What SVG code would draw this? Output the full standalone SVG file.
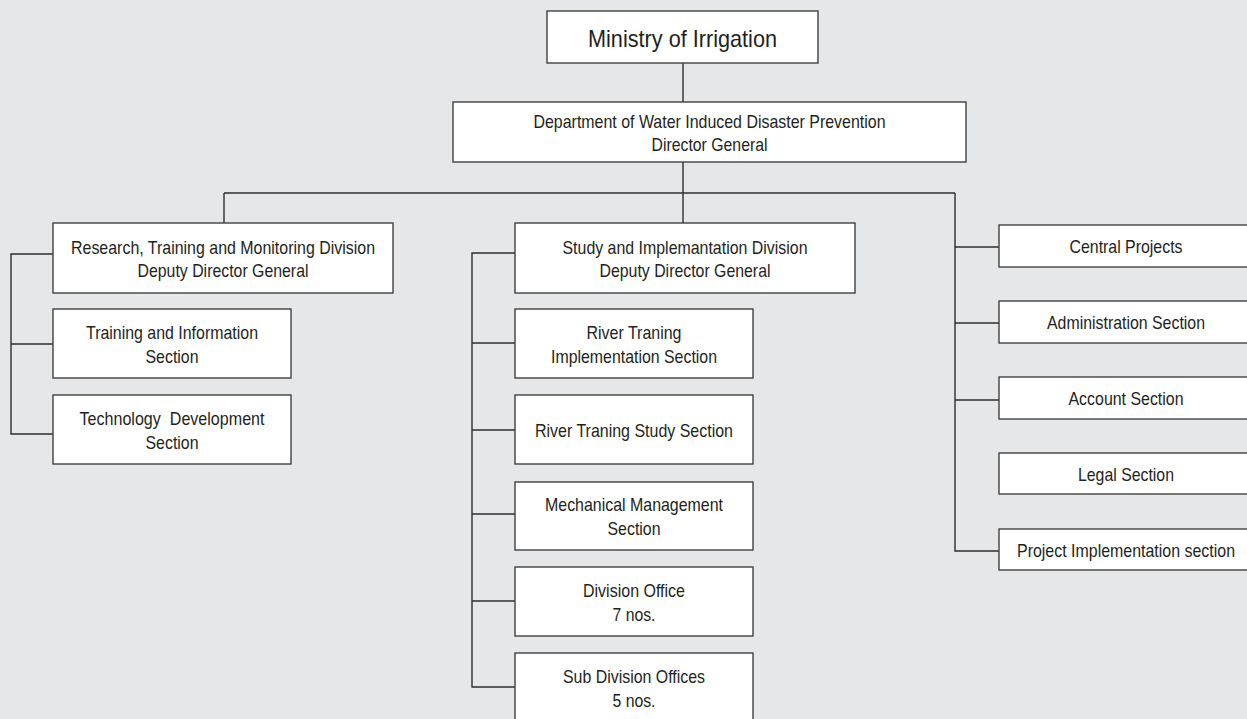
<svg xmlns="http://www.w3.org/2000/svg" width="1247" height="719" viewBox="0 0 1247 719">
<style>
.bg{fill:#e6e7e8}
.box{fill:#ffffff;stroke:#404040;stroke-width:1.4}
.ln{fill:none;stroke:#2e2e2e;stroke-width:1.4}
text{font-family:"Liberation Sans",Arial,sans-serif;font-size:19px;fill:#231f20;text-anchor:middle}
.big{font-size:24px}
</style>
<rect class="bg" x="0" y="0" width="1247" height="719"/>
<g id="connectors">
<path class="ln" d="M683,63 V102"/>
<path class="ln" d="M683,162 V223"/>
<path class="ln" d="M224,193 H955"/>
<path class="ln" d="M224,193 V223"/>
<path class="ln" d="M955,193 V551 H999"/>
<path class="ln" d="M955,247 H999"/>
<path class="ln" d="M955,323 H999"/>
<path class="ln" d="M955,400 H999"/>
<path class="ln" d="M53,254 H11 V434 H53"/>
<path class="ln" d="M11,344 H53"/>
<path class="ln" d="M515,253 H472 V687 H515"/>
<path class="ln" d="M472,343 H515"/>
<path class="ln" d="M472,430 H515"/>
<path class="ln" d="M472,514 H515"/>
<path class="ln" d="M472,601 H515"/>
</g>
<g id="ministry">
<rect class="box" x="547" y="11" width="271" height="52"/>
<text class="big" x="682.5" y="46.5" textLength="189" lengthAdjust="spacingAndGlyphs">Ministry of Irrigation</text>
</g>
<g id="department">
<rect class="box" x="453" y="102" width="513" height="60"/>
<text x="709.5" y="128" textLength="352" lengthAdjust="spacingAndGlyphs">Department of Water Induced Disaster Prevention</text>
<text x="709.5" y="151" textLength="116" lengthAdjust="spacingAndGlyphs">Director General</text>
</g>
<g id="rtm-division">
<rect class="box" x="53" y="223" width="340" height="70"/>
<text x="223" y="254" textLength="304" lengthAdjust="spacingAndGlyphs">Research, Training and Monitoring Division</text>
<text x="223" y="277" textLength="171" lengthAdjust="spacingAndGlyphs">Deputy Director General</text>
</g>
<g id="training-info">
<rect class="box" x="53" y="309" width="238" height="69"/>
<text x="172" y="339" textLength="172" lengthAdjust="spacingAndGlyphs">Training and Information</text>
<text x="172" y="363" textLength="53" lengthAdjust="spacingAndGlyphs">Section</text>
</g>
<g id="tech-dev">
<rect class="box" x="53" y="395" width="238" height="69"/>
<text x="172" y="425" textLength="185" lengthAdjust="spacingAndGlyphs" xml:space="preserve" style="white-space:pre">Technology  Development</text>
<text x="172" y="449" textLength="53" lengthAdjust="spacingAndGlyphs">Section</text>
</g>
<g id="sid-division">
<rect class="box" x="515" y="223" width="340" height="70"/>
<text x="685" y="254" textLength="245" lengthAdjust="spacingAndGlyphs">Study and Implemantation Division</text>
<text x="685" y="277" textLength="171" lengthAdjust="spacingAndGlyphs">Deputy Director General</text>
</g>
<g id="rt-impl">
<rect class="box" x="515" y="309" width="238" height="69"/>
<text x="634" y="339" textLength="95" lengthAdjust="spacingAndGlyphs">River Traning</text>
<text x="634" y="363" textLength="166" lengthAdjust="spacingAndGlyphs">Implementation Section</text>
</g>
<g id="rt-study">
<rect class="box" x="515" y="395" width="238" height="69"/>
<text x="634" y="436.5" textLength="198" lengthAdjust="spacingAndGlyphs">River Traning Study Section</text>
</g>
<g id="mech">
<rect class="box" x="515" y="482" width="238" height="68"/>
<text x="634" y="511" textLength="178" lengthAdjust="spacingAndGlyphs">Mechanical Management</text>
<text x="634" y="535" textLength="53" lengthAdjust="spacingAndGlyphs">Section</text>
</g>
<g id="div-office">
<rect class="box" x="515" y="567" width="238" height="69"/>
<text x="634" y="597" textLength="102" lengthAdjust="spacingAndGlyphs">Division Office</text>
<text x="634" y="621" textLength="43" lengthAdjust="spacingAndGlyphs">7 nos.</text>
</g>
<g id="subdiv-office">
<rect class="box" x="515" y="653" width="238" height="75"/>
<text x="634" y="683" textLength="142" lengthAdjust="spacingAndGlyphs">Sub Division Offices</text>
<text x="634" y="707" textLength="43" lengthAdjust="spacingAndGlyphs">5 nos.</text>
</g>
<g id="central-projects">
<rect class="box" x="999" y="225" width="256" height="42"/>
<text x="1126" y="253" textLength="113" lengthAdjust="spacingAndGlyphs">Central Projects</text>
</g>
<g id="administration">
<rect class="box" x="999" y="301" width="256" height="42"/>
<text x="1126" y="329" textLength="158" lengthAdjust="spacingAndGlyphs">Administration Section</text>
</g>
<g id="account">
<rect class="box" x="999" y="377" width="256" height="42"/>
<text x="1126" y="405" textLength="115" lengthAdjust="spacingAndGlyphs">Account Section</text>
</g>
<g id="legal">
<rect class="box" x="999" y="453" width="256" height="41"/>
<text x="1126" y="480.5" textLength="96" lengthAdjust="spacingAndGlyphs">Legal Section</text>
</g>
<g id="project-impl">
<rect class="box" x="999" y="529" width="256" height="41"/>
<text x="1126" y="556.5" textLength="218" lengthAdjust="spacingAndGlyphs">Project Implementation section</text>
</g>
</svg>
